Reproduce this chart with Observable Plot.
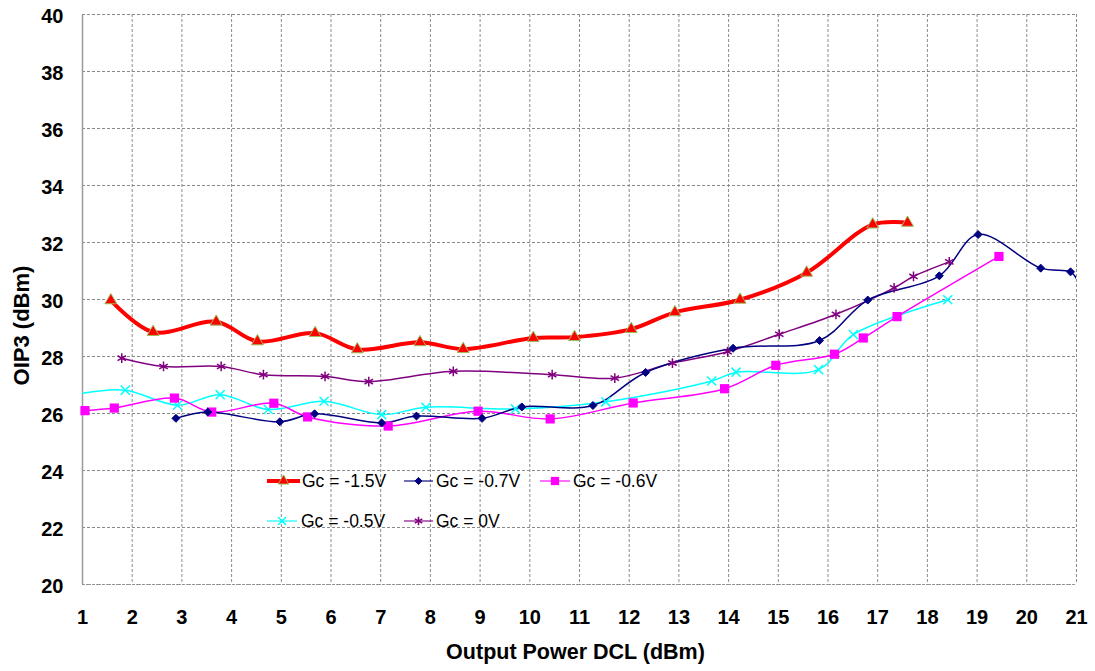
<!DOCTYPE html>
<html>
<head>
<meta charset="utf-8">
<script src="https://cdn.jsdelivr.net/npm/d3@7"></script>
<script src="https://cdn.jsdelivr.net/npm/@observablehq/plot@0.6"></script>
<style>
  html, body { margin: 0; padding: 0; background: #fff; }
  #wrap { position: relative; width: 1095px; height: 671px; }
  #legend { position: absolute; left: 0; top: 0; pointer-events: none; }
</style>
</head>
<body>
<div id="wrap"></div>
<script>
// ---- data ----
const xTicks = [1,2,3,4,5,6,7,8,9,10,11,12,13,14,15,16,17,18,19,20,21];
const yTicks = [20,22,24,26,28,30,32,34,36,38,40];

const seriesNames = ["Gc = -1.5V", "Gc = -0.7V", "Gc = -0.6V", "Gc = -0.5V", "Gc = 0V"];

const xM15 = [1.57, 2.42, 3.69, 4.52, 5.68, 6.53, 7.79, 8.66, 10.07, 10.90, 12.04, 12.92, 14.23, 15.57, 16.90, 17.60];
const yM15 = [29.97, 28.86, 29.22, 28.53, 28.82, 28.25, 28.50, 28.26, 28.65, 28.68, 28.96, 29.55, 29.99, 30.94, 32.63, 32.69];

const xM07 = [2.88, 3.52, 4.97, 5.67, 7.02, 7.72, 9.04, 9.84, 11.27, 12.33, 14.09, 15.83, 16.80, 18.24, 19.02, 20.28, 20.88, 21.0];
const yM07 = [25.83, 26.05, 25.71, 25.99, 25.67, 25.91, 25.83, 26.23, 26.28, 27.44, 28.29, 28.56, 29.98, 30.83, 32.28, 31.10, 30.97, 30.73];

const xM06 = [1.05, 1.64, 2.85, 3.60, 4.85, 5.53, 7.15, 8.96, 10.41, 12.08, 13.92, 14.95, 16.13, 16.71, 17.39, 19.44];
const yM06 = [26.10, 26.19, 26.54, 26.05, 26.36, 25.88, 25.56, 26.08, 25.81, 26.37, 26.87, 27.69, 28.08, 28.65, 29.40, 31.51];

const xM05 = [1.0, 1.86, 2.91, 3.77, 4.74, 5.86, 7.02, 7.91, 9.71, 11.53, 13.66, 14.15, 15.81, 16.51, 18.41];
const yM05 = [26.71, 26.82, 26.29, 26.66, 26.14, 26.43, 25.96, 26.22, 26.16, 26.41, 27.14, 27.45, 27.54, 28.77, 29.99];

const xM0 = [1.79, 2.63, 3.79, 4.64, 5.88, 6.76, 8.46, 10.45, 11.71, 12.87, 13.98, 15.02, 16.16, 17.33, 17.72, 18.44];
const yM0 = [27.94, 27.65, 27.65, 27.36, 27.30, 27.12, 27.48, 27.36, 27.24, 27.77, 28.17, 28.78, 29.48, 30.41, 30.81, 31.32];

// ---- styles ----
const styles = [
  {color: "#FF0000", width: 4, symbol: "triangle", r: 4.4, fill: "#FF0000", stroke: "#9BBB59", sw: 1},
  {color: "#000080", width: 1.5, symbol: "diamond2", r: 3.6, fill: "#000080", stroke: "#000080", sw: 1},
  {color: "#FF00FF", width: 1.5, symbol: "square", r: 5.2, fill: "#FF00FF", stroke: "none", sw: 0},
  {color: "#00FFFF", width: 1.5, symbol: "times", r: 4.2, fill: "none", stroke: "#00FFFF", sw: 1.5},
  {color: "#800080", width: 1.5, symbol: "asterisk", r: 4.6, fill: "none", stroke: "#800080", sw: 1.5}
];

const xs = [xM15, xM07, xM06, xM05, xM0];
const ys = [yM15, yM07, yM06, yM05, yM0];
const tables = xs.map((xa, i) => xa.map((x, j) => ({x, y: ys[i][j], s: seriesNames[i]})));

const lineMarks = [];
const dotMarks = [];
// draw order: background series first, red last
[4, 3, 2, 1, 0].forEach(i => {
  const st = styles[i];
  lineMarks.push(Plot.line(tables[i], {x: "x", y: "y", stroke: st.color, strokeWidth: st.width, curve: "catmull-rom", clip: true}));
  dotMarks.push(Plot.dot(tables[i].filter(d => d.x > 1 && d.x < 21), {
    x: "x", y: "y", symbol: () => st.symbol, r: st.r, fill: st.fill, stroke: st.stroke, strokeWidth: st.sw
  }));
});

const font = "'Liberation Sans', Arial, Helvetica, sans-serif";

const chart = Plot.plot({
  width: 1095,
  height: 671,
  marginLeft: 82,
  marginRight: 19,
  marginTop: 14,
  marginBottom: 87,
  style: {fontFamily: font, background: "#fff", color: "#000"},
  x: {domain: [1, 21]},
  y: {domain: [20, 40]},
  symbol: {type: "identity"},
  marks: [
    Plot.gridX(xTicks, {stroke: "#8a8a8a", strokeOpacity: 1, strokeDasharray: "3,2", strokeWidth: 1}),
    Plot.gridY(yTicks, {stroke: "#8a8a8a", strokeOpacity: 1, strokeDasharray: "3,2", strokeWidth: 1}),
    Plot.ruleY([20], {stroke: "#9a9a9a", strokeDasharray: "1,1", strokeWidth: 1.2}),
    Plot.ruleX([1], {stroke: "#9a9a9a", strokeWidth: 1.5}),
    Plot.axisY({ticks: yTicks, tickSize: 0, tickPadding: 19, fontSize: 20, fontWeight: "bold", dy: 2, label: null}),
    Plot.axisX({ticks: xTicks, tickSize: 0, tickPadding: 25, fontSize: 20, fontWeight: "bold", label: null, tickFormat: d => String(d)}),
    Plot.text(["OIP3 (dBm)"], {frameAnchor: "left", textAnchor: "middle", rotate: -90, dx: -61, dy: 26, fontSize: 22, fontWeight: "bold"}),
    Plot.text(["Output Power DCL (dBm)"], {frameAnchor: "bottom", dx: -4, dy: 74, fontSize: 21.5, fontWeight: "bold"}),
    ...lineMarks,
    ...dotMarks
  ]
});

document.getElementById("wrap").appendChild(chart);

// ---- legend overlay ----
const legendItems = [
  {i: 0, x0: 267, x1: 300, tx: 302, y: 481},
  {i: 1, x0: 404, x1: 433, tx: 436, y: 481},
  {i: 2, x0: 540, x1: 570, tx: 573, y: 481},
  {i: 3, x0: 267, x1: 297, tx: 301, y: 521},
  {i: 4, x0: 404, x1: 433, tx: 436, y: 521}
];
const symMap = {triangle: d3.symbolTriangle, diamond2: d3.symbolDiamond2, square: d3.symbolSquare, times: d3.symbolTimes, asterisk: d3.symbolAsterisk};
const lsvg = d3.select("#wrap").append("svg").attr("id", "legend").attr("width", 1095).attr("height", 671);
legendItems.forEach(it => {
  const st = styles[it.i];
  const g = lsvg.append("g");
  g.append("line").attr("x1", it.x0).attr("x2", it.x1).attr("y1", it.y).attr("y2", it.y)
    .attr("stroke", st.color).attr("stroke-width", st.width).attr("stroke-opacity", it.i === 0 ? 1 : 0.75);
  const mx = (it.x0 + it.x1) / 2;
  g.append("path").attr("transform", `translate(${mx},${it.y})`)
    .attr("d", d3.symbol(symMap[st.symbol], Math.PI * st.r * st.r * 0.8)())
    .attr("fill", st.fill).attr("stroke", st.stroke).attr("stroke-width", st.sw);
  g.append("text").attr("x", it.tx).attr("y", it.y).attr("dy", "0.35em")
    .attr("font-family", font).attr("font-size", 17.5).attr("fill", "#000")
    .text(seriesNames[it.i]);
});
</script>
</body>
</html>
